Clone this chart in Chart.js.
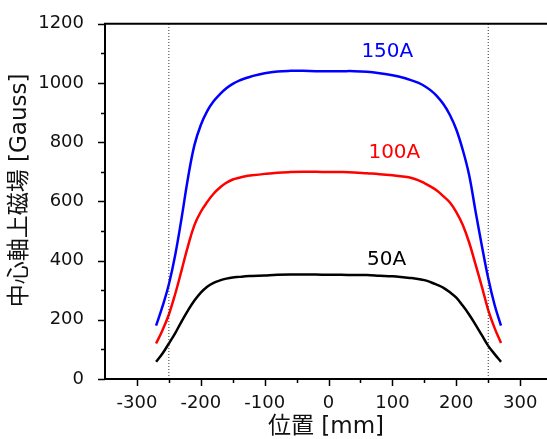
<!DOCTYPE html>
<html>
<head>
<meta charset="utf-8">
<script src="https://cdn.jsdelivr.net/npm/chart.js@4/dist/chart.umd.min.js"></script>
<style>
  body { margin: 0; background: #fff; }
  canvas { display: block; }
</style>
</head>
<body>
<canvas id="chart" width="547" height="439"></canvas>
<script>
// positions along the axis [mm]
const position = [-270, -260, -250, -240, -230, -220, -210, -200, -190, -180, -170, -160, -150, -140, -130, -120,
    -100, -80, -60, -40, -20, 0, 20, 40, 60, 80, 100, 120, 130, 140, 150, 160, 170, 180, 190, 200, 210, 220,
    230, 240, 250, 260, 270];

// field on the centre axis [Gauss]
const field150 = [180, 245, 320, 420, 545, 680, 790, 858, 905, 938, 962, 982, 997, 1008, 1016, 1023,
    1033, 1039, 1041, 1041, 1040, 1040, 1040, 1040, 1038, 1033, 1026, 1016, 1009, 1001, 990, 975, 955, 928,
    892, 843, 775, 690, 568, 450, 340, 250, 180];
const field100 = [120, 165, 218, 288, 368, 450, 520, 565, 598, 626, 647, 663, 674, 680, 685, 688,
    693, 697, 699, 700, 700, 699, 699, 698, 695, 692, 688, 683, 679, 672, 662, 650, 636, 617,
    596, 564, 521, 462, 388, 312, 233, 172, 122];
const field50 = [58, 86, 120, 155, 195, 232, 265, 292, 312, 325, 333, 339, 343, 345, 347, 348,
    350, 352, 353, 353, 353, 352, 352, 351, 351, 349, 347, 343, 341, 338, 334, 327, 318, 308,
    293, 275, 248, 218, 184, 148, 112, 84, 58];

// coil ends (dotted lines)
const coilEnds = [-250, 250];

// current labels
const labelText = ['150A', '100A', '50A'];
const labelX = [92, 103, 91];
const labelY = [1106, 765, 404];
const labelColor = ['#0000ff', '#ff0000', '#000000'];

const xTicks = [-300, -200, -100, 0, 100, 200, 300];
const xMinor = [-250, -150, -50, 50, 150, 250];
const yTicks = [0, 200, 400, 600, 800, 1000, 1200];
const yMinor = [100, 300, 500, 700, 900, 1100];

const FONT = "'DejaVu Sans', 'Noto Sans CJK JP', sans-serif";

function toPoints(values) {
    return values.map((v, i) => ({ x: position[i], y: v }));
}

function curve(values, color) {
    return {
        data: toPoints(values),
        borderColor: color,
        borderWidth: 2.5,
        pointRadius: 0,
        tension: 0.4,
        fill: false
    };
}

const datasets = coilEnds.map(e => ({
    data: [{ x: e, y: 0 }, { x: e, y: 1200 }],
    borderColor: '#333',
    borderWidth: 1,
    borderDash: [1, 2],
    pointRadius: 0,
    fill: false
}));
datasets.push(curve(field150, '#0000ff'));
datasets.push(curve(field100, '#ff0000'));
datasets.push(curve(field50, '#000000'));

// frame, minor/major ticks and the current labels
const decorations = {
    id: 'decorations',
    afterDatasetsDraw(chart) {
        const { ctx, chartArea: a, scales: { x, y } } = chart;
        ctx.save();
        ctx.strokeStyle = '#000';
        ctx.lineWidth = 2;
        ctx.beginPath();
        ctx.moveTo(a.left, a.top);
        ctx.lineTo(a.right, a.top);
        ctx.moveTo(a.left, a.top - 1);
        ctx.lineTo(a.left, a.bottom);
        ctx.moveTo(a.left - 1, a.bottom);
        ctx.lineTo(a.right, a.bottom);
        ctx.stroke();

        ctx.lineWidth = 1.5;
        ctx.beginPath();
        xTicks.forEach(v => {
            const px = Math.round(x.getPixelForValue(v)) + 0.5;
            ctx.moveTo(px, a.bottom);
            ctx.lineTo(px, a.bottom + 7);
        });
        xMinor.forEach(v => {
            const px = Math.round(x.getPixelForValue(v)) + 0.5;
            ctx.moveTo(px, a.bottom);
            ctx.lineTo(px, a.bottom + 4);
        });
        yTicks.forEach(v => {
            const py = Math.round(y.getPixelForValue(v)) + 0.5;
            ctx.moveTo(a.left, py);
            ctx.lineTo(a.left - 7, py);
        });
        yMinor.forEach(v => {
            const py = Math.round(y.getPixelForValue(v)) + 0.5;
            ctx.moveTo(a.left, py);
            ctx.lineTo(a.left - 4, py);
        });
        ctx.stroke();

        ctx.font = '20px ' + FONT;
        ctx.textAlign = 'center';
        ctx.textBaseline = 'middle';
        labelText.forEach((t, i) => {
            ctx.fillStyle = labelColor[i];
            ctx.fillText(t, x.getPixelForValue(labelX[i]), y.getPixelForValue(labelY[i]));
        });
        ctx.restore();
    }
};

new Chart(document.getElementById('chart'), {
    type: 'line',
    data: { datasets },
    options: {
        responsive: false,
        animation: false,
        layout: { padding: { top: 20, right: 0, left: 0, bottom: 0 } },
        plugins: {
            legend: { display: false },
            tooltip: { enabled: false }
        },
        scales: {
            x: {
                type: 'linear',
                min: -350,
                max: 342,
                grid: { display: false },
                border: { display: false },
                afterBuildTicks: scale => { scale.ticks = xTicks.map(v => ({ value: v })); },
                afterFit: scale => { scale.height = 60; },
                ticks: {
                    color: '#111',
                    padding: 6,
                    maxRotation: 0,
                    callback: v => String(v),
                    font: { family: FONT, size: 18 }
                },
                title: {
                    display: true,
                    text: '位置 [mm]',
                    color: '#111',
                    padding: { top: 0, bottom: 0 },
                    font: { family: FONT, size: 23, lineHeight: 1 }
                }
            },
            y: {
                min: 0,
                max: 1200,
                grid: { display: false },
                border: { display: false },
                afterBuildTicks: scale => { scale.ticks = yTicks.map(v => ({ value: v })); },
                afterFit: scale => { scale.width = 105; },
                ticks: {
                    color: '#111',
                    padding: 13,
                    callback: v => String(v),
                    font: { family: FONT, size: 18 }
                },
                title: {
                    display: true,
                    text: '\u00a0\u00a0\u00a0中心軸上磁場 [Gauss]',
                    color: '#111',
                    padding: { top: 9, bottom: 0 },
                    font: { family: FONT, size: 23, lineHeight: 1 }
                }
            }
        }
    },
    plugins: [decorations]
});
</script>
</body>
</html>
